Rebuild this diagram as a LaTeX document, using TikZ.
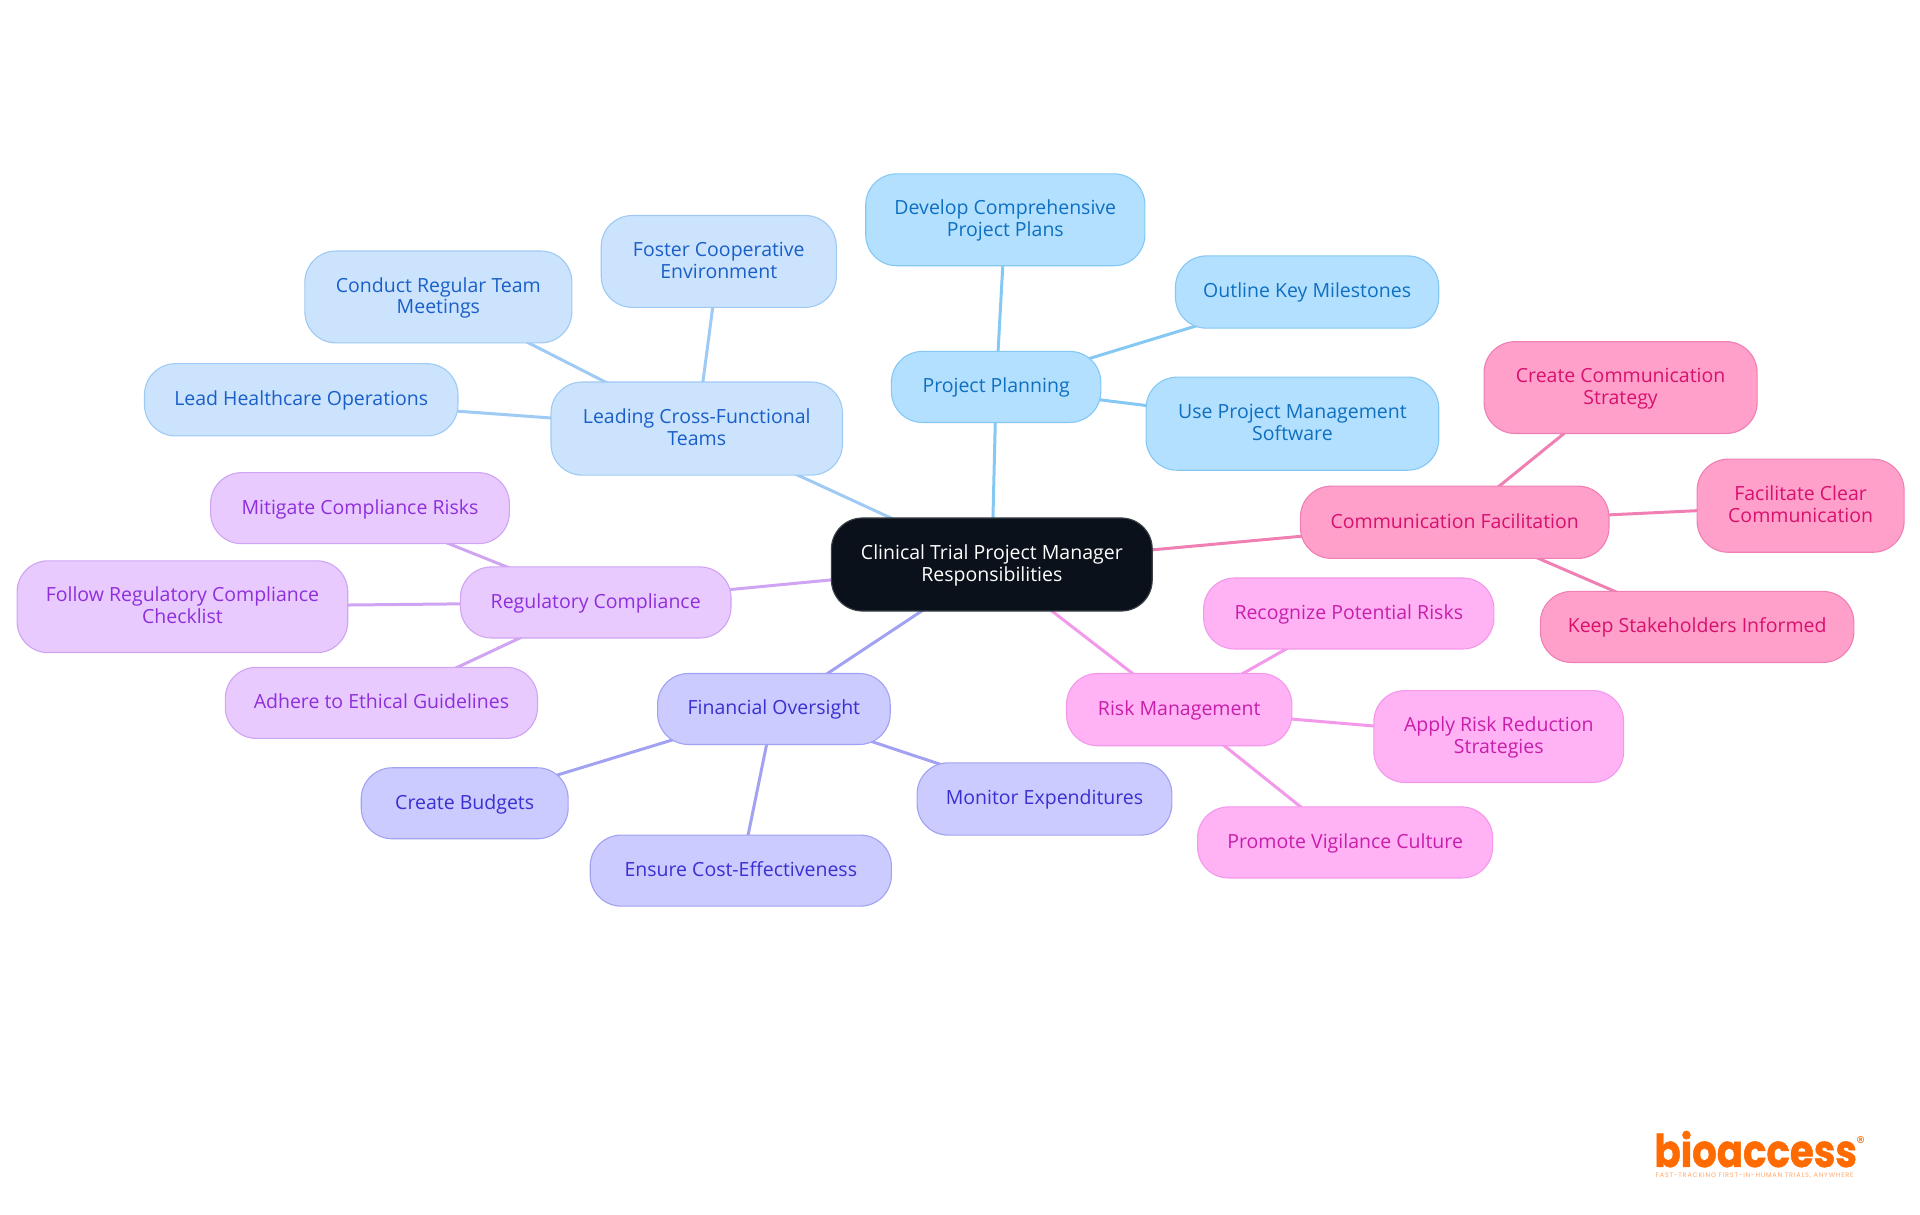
\documentclass[tikz,border=0pt]{standalone}
\usepackage{fontspec}
\setmainfont{Open Sans}
\newfontfamily\logofont[BoldFeatures={FakeBold=1.2}]{Poppins}
\newfontfamily\tagfont[LetterSpace=12.6]{Poppins}
\usetikzlibrary{backgrounds}
\definecolor{rootfill}{HTML}{0B111A}
\definecolor{planfill}{HTML}{B3E0FF}\definecolor{planline}{HTML}{85C8F4}\definecolor{plantext}{HTML}{0F6FC0}
\definecolor{leadfill}{HTML}{CCE3FD}\definecolor{leadline}{HTML}{9FCAF4}\definecolor{leadtext}{HTML}{1A5FC8}
\definecolor{regfill}{HTML}{E8CAFF}\definecolor{regline}{HTML}{CFA4F2}\definecolor{regtext}{HTML}{8E2FDC}
\definecolor{finfill}{HTML}{CBCBFF}\definecolor{finline}{HTML}{A2A2F2}\definecolor{fintext}{HTML}{3A2FD0}
\definecolor{riskfill}{HTML}{FFB3F5}\definecolor{riskline}{HTML}{F398EA}\definecolor{risktext}{HTML}{C81EAA}
\definecolor{commfill}{HTML}{FFA0CB}\definecolor{commline}{HTML}{F080B4}\definecolor{commtext}{HTML}{D8106E}
\definecolor{logoorange}{HTML}{FF6B00}
\tikzset{
 x=1.2245pt,y=-1.2245pt,
 box/.style={draw,line width=1.1pt,rounded corners=31pt,inner sep=0pt,outer sep=0pt,align=center,font=\fontsize{19.5}{21.4}\selectfont},
 rootbox/.style={box,fill=rootfill,draw=rootfill!80!white,text=white},
 planbox/.style={box,fill=planfill,draw=planline,text=plantext},
 leadbox/.style={box,fill=leadfill,draw=leadline,text=leadtext},
 regbox/.style={box,fill=regfill,draw=regline,text=regtext},
 finbox/.style={box,fill=finfill,draw=finline,text=fintext},
 riskbox/.style={box,fill=riskfill,draw=riskline,text=risktext},
 commbox/.style={box,fill=commfill,draw=commline,text=commtext},
 link/.style={line width=3pt},
}
\newcommand{\nd}[7]{\node[#2,minimum width={(#5-#3)*1.2245pt},minimum height={(#6-#4)*1.2245pt}] (#1) at ({(#3+#5)/2},{(#4+#6)/2}) {\raisebox{-1.6pt}[\height][\depth]{\begin{tabular}{@{}c@{}}#7\end{tabular}}};}
\begin{document}
\begin{tikzpicture}
\useasboundingbox (0,0) rectangle (1568,992.23);
\nd{root}{rootbox}{679}{423}{941}{499}{Clinical Trial Project Manager\\Responsibilities}
\nd{plan}{planbox}{728}{287}{899}{345}{Project Planning}
\nd{plana}{planbox}{707}{142}{935}{217}{Develop Comprehensive\\Project Plans}
\nd{planb}{planbox}{960}{209}{1175}{268}{Outline Key Milestones}
\nd{planc}{planbox}{936}{308}{1175}{384}{Use Project Management\\Software}
\nd{lead}{leadbox}{450}{312}{688}{388}{Leading Cross-Functional\\Teams}
\nd{leada}{leadbox}{491}{176}{683}{251}{Foster Cooperative\\Environment}
\nd{leadb}{leadbox}{249}{205}{467}{280}{Conduct Regular Team\\Meetings}
\nd{leadc}{leadbox}{118}{297}{374}{356}{Lead Healthcare Operations}
\nd{reg}{regbox}{376}{463}{597}{521}{Regulatory Compliance}
\nd{rega}{regbox}{172}{386}{416}{444}{Mitigate Compliance Risks}
\nd{regb}{regbox}{14}{458}{284}{533}{Follow Regulatory Compliance\\Checklist}
\nd{regc}{regbox}{184}{545}{439}{603}{Adhere to Ethical Guidelines}
\nd{fin}{finbox}{537}{550}{727}{608}{Financial Oversight}
\nd{fina}{finbox}{295}{627}{464}{685}{Create Budgets}
\nd{finb}{finbox}{482}{682}{728}{740}{Ensure Cost-Effectiveness}
\nd{finc}{finbox}{749}{623}{957}{682}{Monitor Expenditures}
\nd{risk}{riskbox}{871}{550}{1055}{609}{Risk Management}
\nd{riska}{riskbox}{983}{472}{1220}{530}{Recognize Potential Risks}
\nd{riskb}{riskbox}{1122}{564}{1326}{639}{Apply Risk Reduction\\Strategies}
\nd{riskc}{riskbox}{978}{659}{1219}{717}{Promote Vigilance Culture}
\nd{comm}{commbox}{1062}{397}{1314}{456}{Communication Facilitation}
\nd{comma}{commbox}{1212}{279}{1435}{354}{Create Communication\\Strategy}
\nd{commb}{commbox}{1386}{375}{1555}{451}{Facilitate Clear\\Communication}
\nd{commc}{commbox}{1258}{483}{1514}{541}{Keep Stakeholders Informed}
\begin{scope}[on background layer]
\foreach \a/\b/\c in {root/plan/planline,plan/plana/planline,plan/planb/planline,plan/planc/planline,
 root/lead/leadline,lead/leada/leadline,lead/leadb/leadline,lead/leadc/leadline,
 root/reg/regline,reg/rega/regline,reg/regb/regline,reg/regc/regline,
 root/fin/finline,fin/fina/finline,fin/finb/finline,fin/finc/finline,
 root/risk/riskline,risk/riska/riskline,risk/riskb/riskline,risk/riskc/riskline,
 root/comm/commline,comm/comma/commline,comm/commb/commline,comm/commc/commline}
 \draw[link,draw=\c] (\a.center) -- (\b.center);
\end{scope}
\node[anchor=base west,inner sep=0pt,xscale=0.86,text=logoorange,font=\logofont\bfseries\fontsize{45}{45}\selectfont] (logo) at (1351,953) {bioaccess};
\node[anchor=center,inner sep=0pt,text=logoorange,font=\logofont\fontsize{17}{17}\selectfont] (logor) at (1519.5,933) {®};
\node[anchor=base west,inner sep=0pt,text=logoorange!60!white,font=\tagfont\fontsize{6.5}{7}\selectfont] (tag) at (1352,962) {FAST-TRACKING FIRST-IN-HUMAN TRIALS, ANYWHERE};
\end{tikzpicture}
\end{document}
